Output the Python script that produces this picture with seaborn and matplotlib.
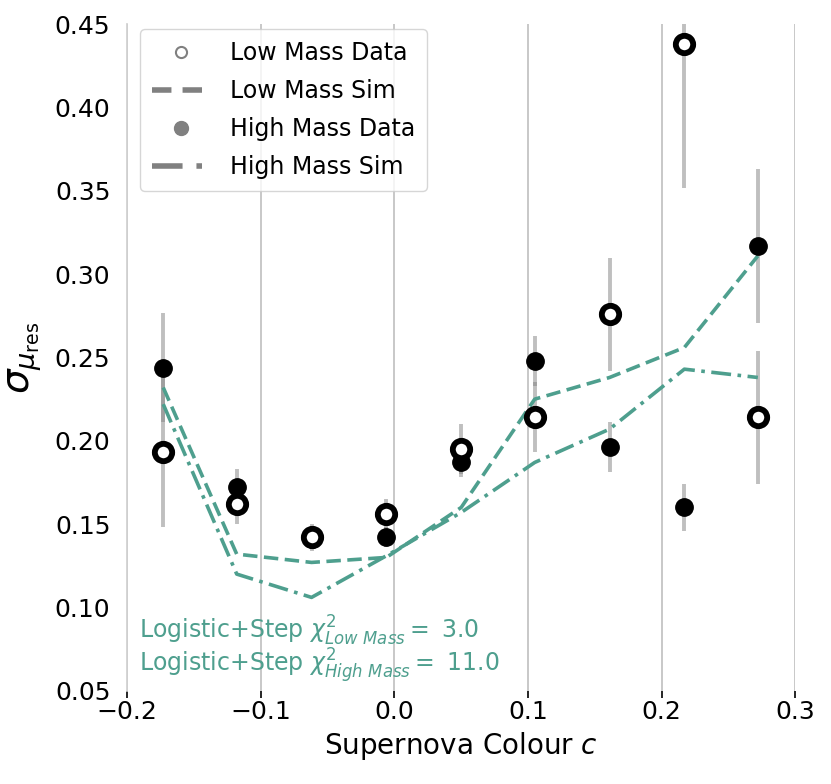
import matplotlib
matplotlib.use("Agg")
import matplotlib.pyplot as plt
from matplotlib.lines import Line2D
import pandas as pd
import seaborn as sns

# binned colour centres
colour = [-0.173, -0.118, -0.062, -0.006, 0.050, 0.105, 0.161, 0.217, 0.272]

low_data = [0.193, 0.162, 0.142, 0.156, 0.195, 0.214, 0.276, 0.438, 0.214]
low_err = [0.045, 0.012, 0.008, 0.009, 0.015, 0.021, 0.034, 0.086, 0.040]
high_data = [0.244, 0.172, 0.141, 0.142, 0.187, 0.248, 0.196, 0.160, 0.317]
high_err = [0.033, 0.011, 0.006, 0.006, 0.009, 0.015, 0.015, 0.014, 0.046]

low_sim = [0.232, 0.132, 0.127, 0.130, 0.160, 0.225, 0.238, 0.256, 0.311]
high_sim = [0.222, 0.120, 0.106, 0.131, 0.157, 0.187, 0.207, 0.243, 0.238]

chi2_low = 3.0
chi2_high = 11.0

sim_colour = "#4e9f8e"

df = pd.DataFrame({
    "c": colour,
    "low_data": low_data, "low_err": low_err,
    "high_data": high_data, "high_err": high_err,
    "low_sim": low_sim, "high_sim": high_sim,
})

sns.set_theme(style="whitegrid")
plt.rcParams["font.family"] = ["DejaVu Sans"]
plt.rcParams["text.color"] = "black"
plt.rcParams["axes.labelcolor"] = "black"
plt.rcParams["xtick.color"] = "black"
plt.rcParams["ytick.color"] = "black"

fig = plt.figure(figsize=(8.31, 7.84), dpi=100)
ax = fig.add_axes([0.153, 0.119, 0.804, 0.850])

# error bars
ax.errorbar(df["c"], df["high_data"], yerr=df["high_err"], fmt="none",
            ecolor="grey", alpha=0.5, elinewidth=2.8, zorder=2)
ax.errorbar(df["c"], df["low_data"], yerr=df["low_err"], fmt="none",
            ecolor="grey", alpha=0.5, elinewidth=2.8, zorder=2)

# simulations
sns.lineplot(data=df, x="c", y="low_sim", ax=ax, color=sim_colour, lw=2.6,
             linestyle=(0, (4, 1.8)), zorder=3)
sns.lineplot(data=df, x="c", y="high_sim", ax=ax, color=sim_colour, lw=2.6,
             linestyle=(0, (5.5, 1.8, 1, 1.8)), zorder=3)

# data
ax.plot(df["c"], df["high_data"], "o", color="black", ms=12.5, zorder=4)
ax.plot(df["c"], df["low_data"], "o", mfc="white", mec="black", mew=4.2,
        ms=12.5, zorder=5)

ax.text(-0.191, 0.086,
        r"Logistic+Step $\chi^2_{Low\ Mass} =$ " + f"{chi2_low:.1f}",
        color=sim_colour, fontsize=17, va="center")
ax.text(-0.191, 0.065,
        r"Logistic+Step $\chi^2_{High\ Mass} =$ " + f"{chi2_high:.1f}",
        color=sim_colour, fontsize=17, va="center")

ax.set_xlim(-0.2, 0.3)
ax.set_ylim(0.05, 0.45)
ax.set_xticks([-0.2, -0.1, 0.0, 0.1, 0.2, 0.3])
ax.set_yticks([0.05, 0.10, 0.15, 0.20, 0.25, 0.30, 0.35, 0.40, 0.45])
ax.yaxis.grid(False)
ax.xaxis.grid(True, color="#c4c4c4", lw=1.3)
ax.spines["top"].set_visible(False)
ax.spines["right"].set_visible(False)
ax.spines["bottom"].set_visible(False)
ax.spines["left"].set_color("#d0d0d0")
ax.tick_params(axis="x", bottom=True, length=5, width=1.2, color="black",
               labelsize=18, pad=2)
ax.tick_params(axis="y", left=False, labelsize=18, pad=6)

ax.set_xlabel(r"Supernova Colour $c$", fontsize=20, labelpad=4)
ax.set_ylabel(r"$\sigma_{\mu_{\rm res}}$", fontsize=28, labelpad=8)

handles = [
    Line2D([], [], marker="o", ls="none", mfc="white", mec="grey", mew=1.5, ms=8),
    Line2D([], [], color="grey", lw=4, linestyle=(0, (3.5, 2))),
    Line2D([], [], marker="o", ls="none", color="grey", ms=10),
    Line2D([], [], color="grey", lw=4, linestyle=(0, (5.5, 2.5, 1, 2.5))),
]
labels = ["Low Mass Data", "Low Mass Sim", "High Mass Data", "High Mass Sim"]
leg = ax.legend(handles, labels, loc="upper left", fontsize=17, frameon=True,
                handlelength=2.5, bbox_to_anchor=(0.012, 1.0),
                borderaxespad=0.2, labelspacing=0.6, handletextpad=0.8,
                borderpad=0.5)
leg.get_frame().set_edgecolor("#cccccc")

fig.savefig("out.png", dpi=100)
